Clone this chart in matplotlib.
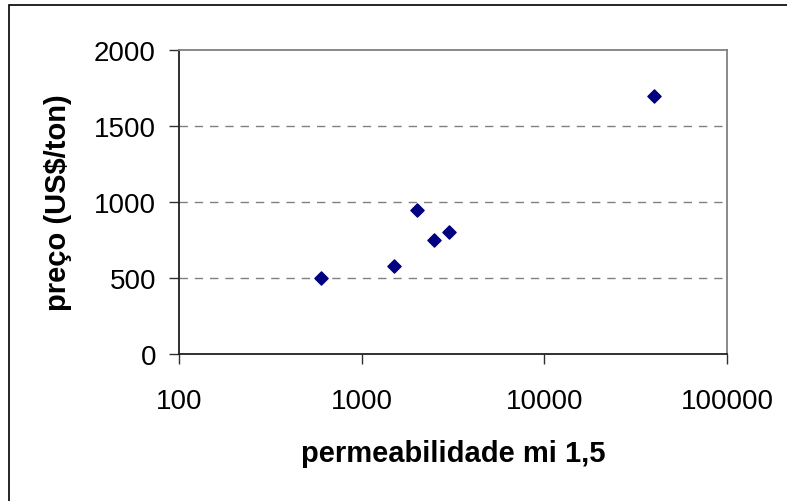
import numpy as np
import matplotlib
matplotlib.use("Agg")
import matplotlib.pyplot as plt
from matplotlib.patches import Rectangle
from matplotlib.ticker import FixedLocator, NullLocator

# data
permeabilidade = [600, 1500, 2000, 2500, 3000, 40000]
preco = [500, 580, 950, 750, 800, 1700]

x_ticks = [100, 1000, 10000, 100000]
x_tick_labels = ["100", "1000", "10000", "100000"]
y_ticks = [0, 500, 1000, 1500, 2000]

plt.rcParams['font.family'] = ['Liberation Sans', 'DejaVu Sans']

W, H = 787, 502
fig = plt.figure(figsize=(W / 100, H / 100), dpi=100)

# outer chart border (right and bottom edges run off the picture)
fig.patches.append(Rectangle((9 / W, -0.05), 1.2, 1 - 6 / H + 0.05,
                             transform=fig.transFigure, fill=False,
                             edgecolor='black', linewidth=1.2))

left, right, top, bottom = 179, 727, 51, 355
ax = fig.add_axes([left / W, 1 - bottom / H, (right - left) / W, (bottom - top) / H])

ax.scatter(permeabilidade, preco, marker='D', s=45, color='#000080',
           edgecolors='#000080', zorder=3)

ax.set_xscale('log')
ax.set_xlim(100, 100000)
ax.set_ylim(0, 2000)
ax.xaxis.set_major_locator(FixedLocator(x_ticks))
ax.xaxis.set_minor_locator(NullLocator())
ax.set_xticklabels(x_tick_labels)
ax.set_yticks(y_ticks)

# dashed gridlines
for v in y_ticks[1:-1]:
    ax.axhline(v, color='#808080', linestyle=(0, (6, 5)), linewidth=1, zorder=1)

ax.spines['left'].set_color('#202020')
ax.spines['bottom'].set_color('#202020')
ax.spines['top'].set_color('#808080')
ax.spines['right'].set_color('#808080')
for s in ax.spines.values():
    s.set_linewidth(1.3)

ax.tick_params(axis='both', direction='out', length=7.2, width=1,
               color='#303030', labelsize=20)
ax.tick_params(axis='y', pad=9.4)
ax.tick_params(axis='x', pad=17.6)

ax.set_xlabel("permeabilidade mi 1,5", fontsize=21, fontweight='bold', labelpad=17.6)
ax.set_ylabel("preço (US$/ton)", fontsize=21, fontweight='bold', labelpad=16)

fig.savefig("out.png", dpi=100)
